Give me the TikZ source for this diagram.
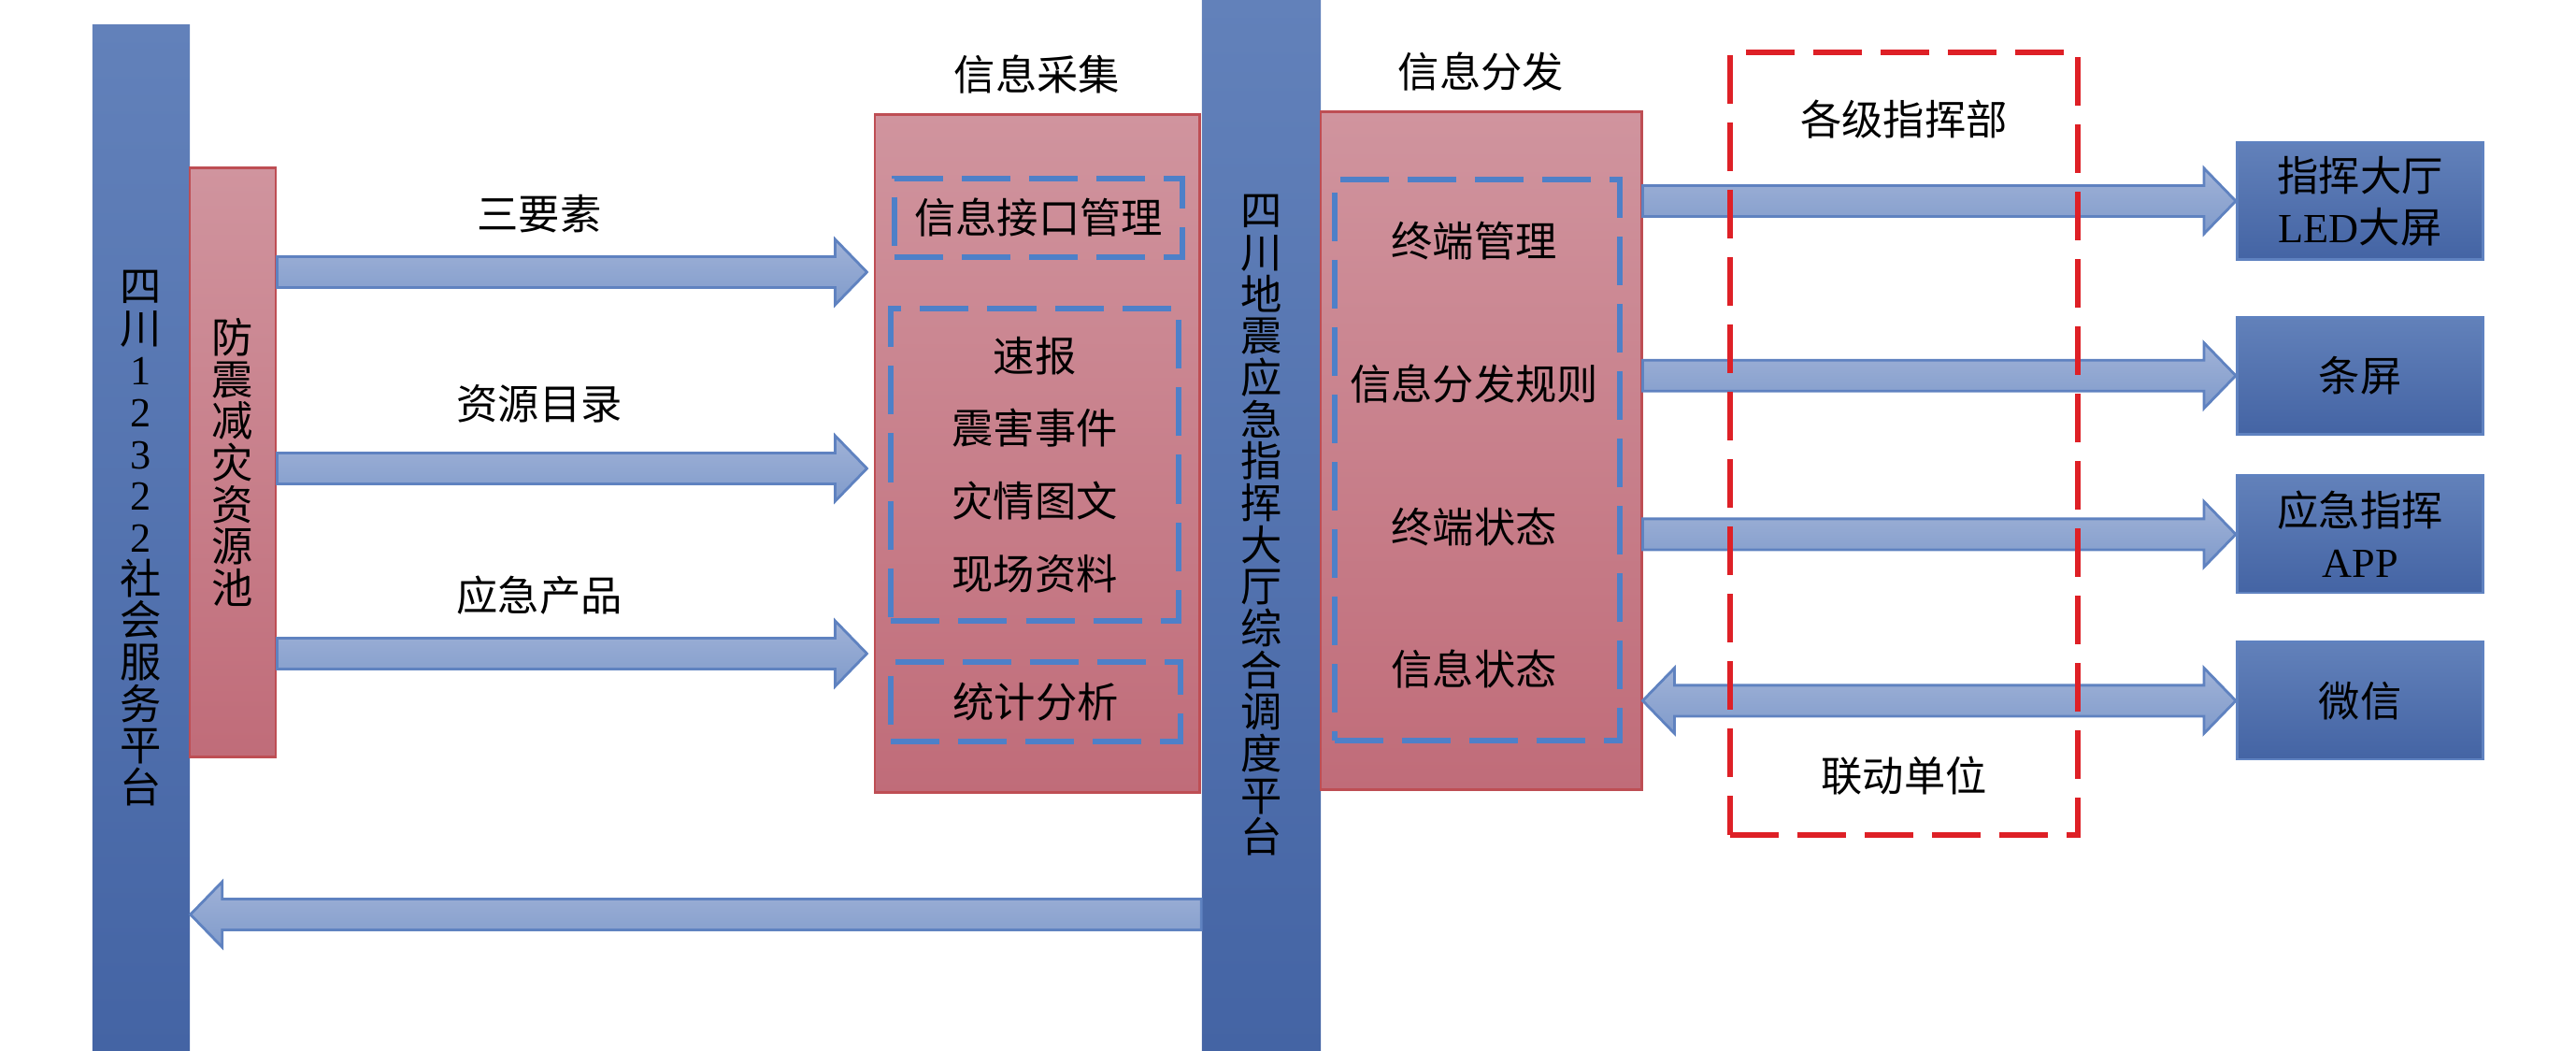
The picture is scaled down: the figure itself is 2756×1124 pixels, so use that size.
\documentclass[tikz,border=0pt]{standalone}
\usepackage{fontspec}
\setmainfont{Liberation Serif}
\newfontfamily\cjk{Noto Sans CJK SC}
\usetikzlibrary{positioning,calc}

\definecolor{barTop}{RGB}{98,129,186}
\definecolor{barBot}{RGB}{68,100,164}
\definecolor{pinkTop}{RGB}{208,148,158}
\definecolor{pinkBot}{RGB}{192,108,121}
\definecolor{pinkEdge}{RGB}{190,78,84}
\definecolor{arrTop}{RGB}{160,178,215}
\definecolor{arrBot}{RGB}{128,155,203}
\definecolor{arrEdge}{RGB}{95,130,192}
\definecolor{dashBlue}{RGB}{78,128,200}
\definecolor{dashRed}{RGB}{222,32,38}

\newcommand{\lat}[1]{{\rmfamily #1}}
\newcommand{\shaftw}{0.165cm}
\newcommand{\headw}{0.35cm}
\newcommand{\headl}{0.34cm}
% block arrow, #1 = direction (1 right, -1 left)
\newcommand{\blockarrow}[3][1]{%
  \draw[flowarrow] let \p1=(#2), \p2=(#3), \n1={\x2-(#1)*\headl} in
    (\x1,\y1+\shaftw) -- (\n1,\y1+\shaftw) -- (\n1,\y1+\headw)
    -- (\x2,\y1) -- (\n1,\y1-\headw) -- (\n1,\y1-\shaftw)
    -- (\x1,\y1-\shaftw) -- cycle;}
\newcommand{\dblarrow}[2]{%
  \draw[flowarrow] let \p1=(#1), \p2=(#2) in
    (\x1,\y1) -- (\x1+\headl,\y1+\headw) -- (\x1+\headl,\y1+\shaftw)
    -- (\x2-\headl,\y1+\shaftw) -- (\x2-\headl,\y1+\headw) -- (\x2,\y1)
    -- (\x2-\headl,\y1-\headw) -- (\x2-\headl,\y1-\shaftw)
    -- (\x1+\headl,\y1-\shaftw) -- (\x1+\headl,\y1-\headw) -- cycle;}

\begin{document}
\begin{tikzpicture}[x=0.01cm, y=-0.01cm,
    txt/.style = {font=\cjk\fontsize{12.6}{15.8}\selectfont, text=black, inner sep=0pt, align=center},
    vtxt/.style = {txt, font=\cjk\fontsize{12.6}{12.7}\selectfont},
    bluebar/.style = {vtxt, top color=barTop, bottom color=barBot, draw=none},
    bluebox/.style = {txt, top color=barTop, bottom color=barBot, draw=arrEdge, line width=0.8pt,
                      minimum width=2.63cm, minimum height=1.25cm},
    pinkbox/.style = {txt, top color=pinkTop, bottom color=pinkBot, draw=pinkEdge, line width=0.8pt},
    dashbox/.style = {txt, draw=dashBlue, line width=1.7pt, dash pattern=on 0.52cm off 0.2cm},
    reddash/.style = {draw=dashRed, line width=1.7pt, dash pattern=on 0.52cm off 0.2cm},
    flowarrow/.style = {top color=arrTop, bottom color=arrBot, draw=arrEdge, line width=0.8pt}]

\useasboundingbox (0,0) rectangle (2756,1124);

% left side
\node[bluebar, minimum width=1.04cm, minimum height=10.97cm] (platform) at (151,575.5)
  {四\\川\\\lat{1}\\\lat{2}\\\lat{3}\\\lat{2}\\\lat{2}\\社\\会\\服\\务\\平\\台};
\node[pinkbox, vtxt, minimum width=0.92cm, minimum height=6.29cm] (pool) at (249,494.5)
  {防\\震\\减\\灾\\资\\源\\池};

% collection
\node[pinkbox, minimum width=3.47cm, minimum height=7.24cm] (collect) at (1109.5,485) {};
\node[txt, above=0.2cm of collect] (collectlbl) {信息采集};
\node[dashbox, minimum width=3.08cm, minimum height=0.84cm] (iface) at (1111,233) {信息接口管理};
\node[dashbox, font=\cjk\fontsize{12.6}{22.1}\selectfont, minimum width=3.07cm, minimum height=3.33cm] (reports) at (1107,497)
  {速报\\震害事件\\灾情图文\\现场资料};
\node[dashbox, minimum width=3.10cm, minimum height=0.85cm] (stats) at (1108,750.5) {统计分析};

% central platform
\node[bluebar, minimum width=1.27cm, minimum height=11.24cm] (hall) at (1349.5,562)
  {四\\川\\地\\震\\应\\急\\指\\挥\\大\\厅\\综\\合\\调\\度\\平\\台};

% dispatch
\node[pinkbox, minimum width=3.43cm, minimum height=7.24cm] (dispatch) at (1584.5,482) {};
\node[txt, above=0.2cm of dispatch] (dispatchlbl) {信息分发};
\node[dashbox, minimum width=3.05cm, minimum height=6.0cm] (rules) at (1580.5,492) {};
\node[txt] (d1) at (1577,258) {终端管理};
\node[txt, below=1.1cm of d1] (d2) {信息分发规则};
\node[txt, below=1.1cm of d2] (d3) {终端状态};
\node[txt, below=1.1cm of d3] (d4) {信息状态};

% terminals
\node[bluebox] (led) at (2525,215) {指挥大厅\\\lat{LED}大屏};
\node[bluebox] (strip) at (2525,401.7) {条屏};
\node[bluebox] (app) at (2525,571.4) {应急指挥\\\lat{APP}};
\node[bluebox] (wechat) at (2525,749.4) {微信};

% arrows
\coordinate (s1) at (pool.east |- 0,291);
\coordinate (s2) at (pool.east |- 0,501);
\coordinate (s3) at (pool.east |- 0,699);
\coordinate (t1) at ($(collect.west |- s1)+(-7,0)$);
\coordinate (t2) at ($(collect.west |- s2)+(-7,0)$);
\coordinate (t3) at ($(collect.west |- s3)+(-7,0)$);
\blockarrow{s1}{t1}
\blockarrow{s2}{t2}
\blockarrow{s3}{t3}
\node[txt] (l1) at (577,229) {三要素};
\node[txt] (l2) at (577,432) {资源目录};
\node[txt] (l3) at (577,636.5) {应急产品};

\coordinate (back) at (hall.west |- 0,978);
\coordinate (backend) at (platform.east |- back);
\blockarrow[-1]{back}{backend}

\blockarrow{dispatch.east |- led.west}{led.west}
\blockarrow{dispatch.east |- strip.west}{strip.west}
\blockarrow{dispatch.east |- app.west}{app.west}
\dblarrow{dispatch.east |- wechat.west}{wechat.west}

% command posts
\node[reddash, minimum width=3.72cm, minimum height=8.37cm] (cmd) at (2037,474.5) {};
\node[txt, below=0.53cm of cmd.north] (cmdlbl) {各级指挥部};
\node[txt, above=0.45cm of cmd.south] (unitlbl) {联动单位};

\end{tikzpicture}
\end{document}
